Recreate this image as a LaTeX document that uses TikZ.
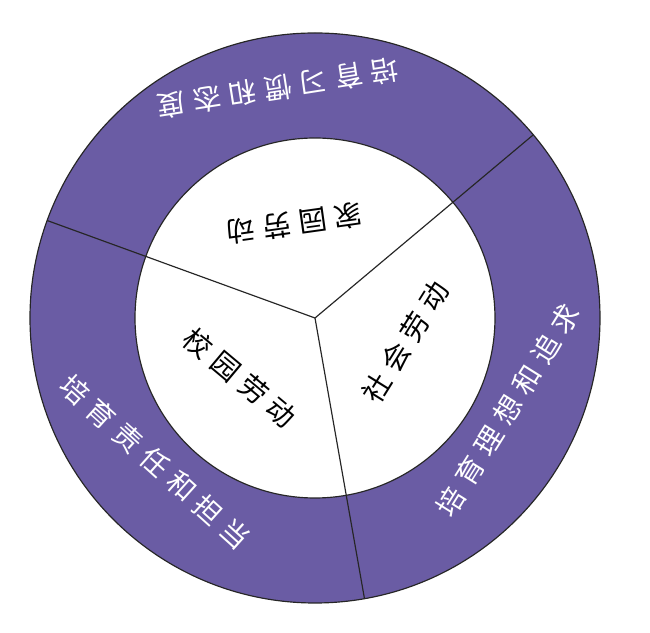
\documentclass[tikz,border=0pt]{standalone}
\usepackage{fontspec}
\newfontfamily\cjk{Noto Sans CJK SC}
\usetikzlibrary{calc}
\definecolor{ring}{HTML}{6A5CA4}
\tikzset{
  outtxt/.style={text=white,font=\cjk\fontsize{24}{24}\selectfont\addfontfeature{LetterSpace=28}},
  intxt/.style={text=black,font=\cjk\fontsize{24}{24}\selectfont\addfontfeature{LetterSpace=28}},
  divider/.style={draw=black!85,line width=1pt}
}
\begin{document}
\begin{tikzpicture}
\useasboundingbox (0,0) rectangle (19.5,18.99);
\coordinate (c) at (9.45,9.45);
\fill[ring,draw=black!85,line width=1pt] (c) circle (8.55);
\fill[white,draw=black!85,line width=1pt] (c) circle (5.4);
\coordinate (p1) at ($(c)+(40:8.55)$);
\coordinate (p2) at ($(c)+(160:8.55)$);
\coordinate (p3) at ($(c)+(280:8.55)$);
\draw[divider] (c) -- (p1);
\draw[divider] (c) -- (p2);
\draw[divider] (c) -- (p3);
\node[outtxt,rotate=189] (o1) at (8.34,16.35) {培育习惯和态度};
\node[intxt,rotate=188] (i1) at (8.85,12.29) {家园劳动};
\node[intxt,rotate=-40] (i2) at (7.2,7.65) {校园劳动};
\node[outtxt,rotate=-42] (o2) at (4.65,5.13) {培育责任和担当};
\node[intxt,rotate=58] (i3) at (12.15,8.73) {社会劳动};
\node[outtxt,rotate=58] (o3) at (15.24,6.69) {培育理想和追求};
\end{tikzpicture}
\end{document}
